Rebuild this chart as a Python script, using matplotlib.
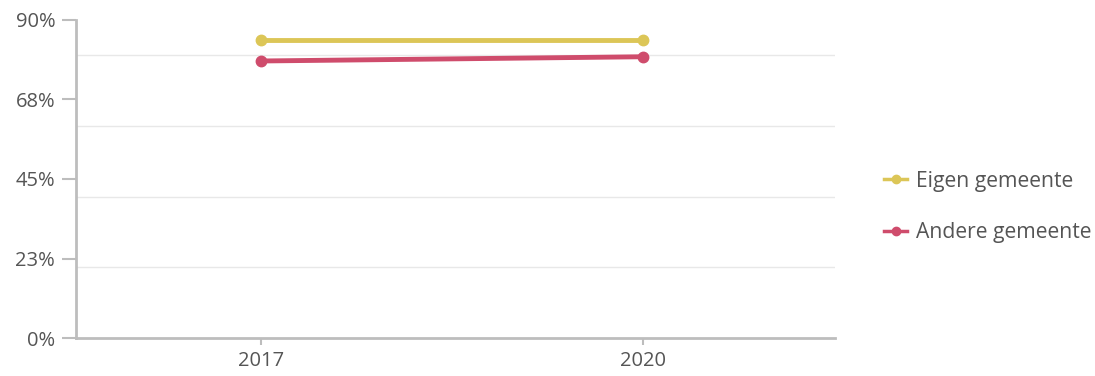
import matplotlib.pyplot as plt
from matplotlib.ticker import FixedLocator

years = ['2017', '2020']
eigen = [84.3, 84.3]
andere = [78.4, 79.6]
ytick_vals = [0, 22.5, 45, 67.5, 90]
ytick_labels = ['0%', '23%', '45%', '68%', '90%']
grid_vals = [20, 40, 60, 80]

plt.rcParams['font.family'] = ['Open Sans', 'DejaVu Sans']

fig = plt.figure(figsize=(10.95, 3.76), dpi=100)
ax = fig.add_axes([76/1095, 38/376, (835-76)/1095, 318/376])

x = list(range(len(years)))
for v in grid_vals:
    ax.axhline(v, color='#e8e8e8', lw=1, zorder=0)

ax.plot(x, eigen, color='#dcc657', lw=3.5, marker='o', ms=7.5, label='Eigen gemeente', zorder=3)
ax.plot(x, andere, color='#cf4c6c', lw=3.5, marker='o', ms=7.5, label='Andere gemeente', zorder=3)

ax.set_xlim(-0.485, 1.503)
ax.set_ylim(0, 90)
ax.set_xticks(x)
ax.set_xticklabels(years)
ax.yaxis.set_major_locator(FixedLocator(ytick_vals))
ax.set_yticklabels(ytick_labels)

for s in ['top', 'right']:
    ax.spines[s].set_visible(False)
for s in ['left', 'bottom']:
    ax.spines[s].set_color('#bdbdbd')
    ax.spines[s].set_linewidth(2)
ax.tick_params(axis='both', colors='#bdbdbd', labelcolor='#555555', labelsize=14.5, width=1.5)
ax.tick_params(axis='x', length=5, pad=4)
ax.tick_params(axis='y', length=10, pad=5)

leg = fig.legend(loc='center left', bbox_to_anchor=(865/1095, 1 - 207/376), frameon=False,
                 fontsize=15.2, labelcolor='#555555', handlelength=1.1, labelspacing=1.45,
                 handletextpad=0.4, markerscale=0.8)
for h in leg.legend_handles:
    h.set_linewidth(2.5)

fig.savefig('out.png', dpi=100)
